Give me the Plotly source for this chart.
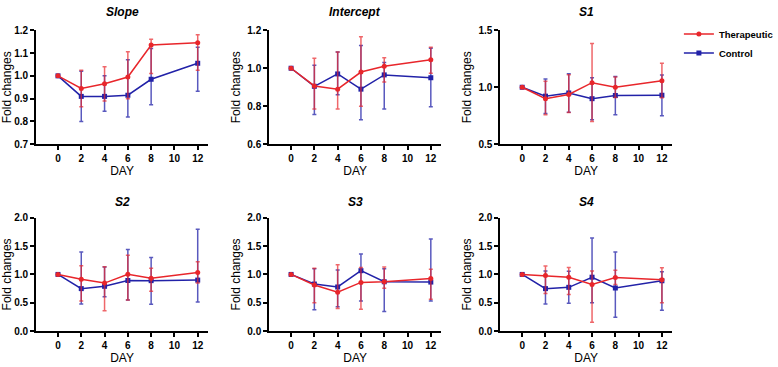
import plotly.graph_objects as go

days = [0, 2, 4, 6, 8, 12]
panel_titles = ["Slope", "Intercept", "S1", "S2", "S3", "S4"]

# Therapeutic: mean, upper, lower
slope_t = [1.0, 0.945, 0.965, 0.995, 1.135, 1.145]
slope_t_hi = [1.0, 1.025, 1.04, 1.105, 1.16, 1.18]
slope_t_lo = [1.0, 0.865, 0.89, 0.90, 1.01, 1.025]
slope_c = [1.0, 0.91, 0.91, 0.915, 0.985, 1.055]
slope_c_hi = [1.0, 1.02, 1.0, 1.07, 1.12, 1.125]
slope_c_lo = [1.0, 0.80, 0.845, 0.82, 0.873, 0.933]

inter_t = [1.0, 0.907, 0.89, 0.98, 1.01, 1.045]
inter_t_hi = [1.0, 1.053, 1.085, 1.165, 1.055, 1.11]
inter_t_lo = [1.0, 0.786, 0.786, 0.80, 0.928, 0.974]
inter_c = [1.0, 0.905, 0.97, 0.89, 0.965, 0.95]
inter_c_hi = [1.0, 1.015, 1.085, 1.12, 1.03, 1.105]
inter_c_lo = [1.0, 0.757, 0.86, 0.729, 0.786, 0.797]

s1_t = [1.0, 0.90, 0.937, 1.04, 1.0, 1.058]
s1_t_hi = [1.0, 1.052, 1.11, 1.383, 1.09, 1.21]
s1_t_lo = [1.0, 0.758, 0.778, 0.70, 0.91, 0.908]
s1_c = [1.0, 0.922, 0.95, 0.90, 0.928, 0.93]
s1_c_hi = [1.0, 1.072, 1.118, 1.083, 1.095, 1.107]
s1_c_lo = [1.0, 0.77, 0.78, 0.715, 0.758, 0.75]

s2_t = [1.0, 0.916, 0.847, 1.003, 0.934, 1.032]
s2_t_hi = [1.0, 1.153, 1.135, 1.337, 1.107, 1.222]
s2_t_lo = [1.0, 0.53, 0.357, 0.548, 0.703, 0.85]
s2_c = [1.0, 0.749, 0.79, 0.893, 0.89, 0.90]
s2_c_hi = [1.0, 1.395, 1.13, 1.44, 1.297, 1.798]
s2_c_lo = [1.0, 0.478, 0.605, 0.548, 0.473, 0.513]

s3_t = [1.0, 0.813, 0.686, 0.859, 0.87, 0.928]
s3_t_hi = [1.0, 1.107, 1.17, 1.124, 1.13, 1.09]
s3_t_lo = [1.0, 0.50, 0.398, 0.386, 0.755, 0.56]
s3_c = [1.0, 0.83, 0.778, 1.066, 0.87, 0.865]
s3_c_hi = [1.0, 1.1, 1.078, 1.36, 1.1, 1.625]
s3_c_lo = [1.0, 0.375, 0.427, 0.53, 0.346, 0.53]

s4_t = [1.0, 0.98, 0.951, 0.824, 0.945, 0.905]
s4_t_hi = [1.0, 1.147, 1.124, 1.06, 1.072, 1.118]
s4_t_lo = [1.0, 0.663, 0.646, 0.156, 0.82, 0.50]
s4_c = [1.0, 0.749, 0.772, 0.951, 0.76, 0.888]
s4_c_hi = [1.0, 1.06, 1.055, 1.643, 1.395, 1.049]
s4_c_lo = [1.0, 0.478, 0.49, 0.5, 0.242, 0.369]

y_ranges = [[0.7, 1.2], [0.6, 1.2], [0.5, 1.5], [0, 2], [0, 2], [0, 2]]
y_dticks = [0.1, 0.2, 0.5, 0.5, 0.5, 0.5]
x_ticks = [0, 2, 4, 6, 8, 10, 12]

panels = [
    (slope_t, slope_t_hi, slope_t_lo, slope_c, slope_c_hi, slope_c_lo),
    (inter_t, inter_t_hi, inter_t_lo, inter_c, inter_c_hi, inter_c_lo),
    (s1_t, s1_t_hi, s1_t_lo, s1_c, s1_c_hi, s1_c_lo),
    (s2_t, s2_t_hi, s2_t_lo, s2_c, s2_c_hi, s2_c_lo),
    (s3_t, s3_t_hi, s3_t_lo, s3_c, s3_c_hi, s3_c_lo),
    (s4_t, s4_t_hi, s4_t_lo, s4_c, s4_c_hi, s4_c_lo),
]

W, H = 778, 367
RED = "#e8262b"
BLUE = "#2222a8"
RED_E = "rgba(232,38,43,0.7)"
BLUE_E = "rgba(34,34,168,0.75)"
FONT = "Liberation Sans, Arial, sans-serif"

col_px = [(36, 209), (270, 443), (502, 675)]
row_px = [(25, 143), (219, 336)]
title_px = [6, 203]

fig = go.Figure()
layout = {}
annotations = []

for i, (t, thi, tlo, c, chi, clo) in enumerate(panels):
    r, col = divmod(i, 3)
    n = i + 1
    xa = "x" if n == 1 else f"x{n}"
    ya = "y" if n == 1 else f"y{n}"
    x0, x1 = col_px[col]
    y0, y1 = row_px[r]
    xdom = [x0 / W, x1 / W]
    ydom = [1 - y1 / H, 1 - y0 / H]

    fig.add_trace(go.Scatter(
        x=days, y=c, mode="lines+markers", name="Control",
        xaxis=xa, yaxis=ya, showlegend=(i == 0), legendrank=2, cliponaxis=False,
        line=dict(color=BLUE, width=1.5),
        marker=dict(symbol="square", size=5, color=BLUE),
        error_y=dict(type="data", symmetric=False,
                     array=[h - m for h, m in zip(chi, c)],
                     arrayminus=[m - l for m, l in zip(c, clo)],
                     color=BLUE_E, thickness=1.5, width=2),
    ))
    fig.add_trace(go.Scatter(
        x=days, y=t, mode="lines+markers", name="Therapeutic",
        xaxis=xa, yaxis=ya, showlegend=(i == 0), legendrank=1, cliponaxis=False,
        line=dict(color=RED, width=1.5),
        marker=dict(symbol="circle", size=5, color=RED),
        error_y=dict(type="data", symmetric=False,
                     array=[h - m for h, m in zip(thi, t)],
                     arrayminus=[m - l for m, l in zip(t, tlo)],
                     color=RED_E, thickness=1.5, width=2),
    ))

    axis_common = dict(showline=True, linecolor="black", linewidth=1.5,
                       ticks="outside", ticklen=4, tickwidth=1.5, tickcolor="black",
                       showgrid=False, zeroline=False,
                       tickfont=dict(family=FONT, size=10, color="black", weight="bold"))
    layout["xaxis" if n == 1 else f"xaxis{n}"] = dict(
        domain=xdom, anchor=ya, range=[-1.9, 12.9], tickvals=x_ticks,
        title=dict(text="DAY", font=dict(family=FONT, size=12, color="black"), standoff=3),
        **axis_common)
    layout["yaxis" if n == 1 else f"yaxis{n}"] = dict(
        domain=ydom, anchor=xa, range=y_ranges[i], dtick=y_dticks[i],
        tick0=y_ranges[i][0], tickformat=".1f",
        title=dict(text="Fold changes", font=dict(family=FONT, size=12, color="black"), standoff=4),
        **axis_common)
    annotations.append(dict(
        text=f"<b><i>{panel_titles[i]}</i></b>", x=(x0 + x1) / 2 / W,
        y=1 - title_px[r] / H, xref="paper", yref="paper",
        showarrow=False, xanchor="center", yanchor="middle",
        font=dict(family=FONT, size=12, color="black")))

fig.update_layout(
    width=W, height=H, margin=dict(l=0, r=0, t=0, b=0),
    plot_bgcolor="white", paper_bgcolor="white",
    annotations=annotations,
    legend=dict(x=0.876, y=1 - 14 / H, xanchor="left", yanchor="top",
                font=dict(family=FONT, size=9.5, color="black", weight="bold"),
                bgcolor="rgba(0,0,0,0)", tracegroupgap=0, itemwidth=30),
    **layout,
)

fig.write_html("out.html", config={"displayModeBar": False},
               post_script="document.body.style.margin='0';document.body.style.overflow='hidden';")
